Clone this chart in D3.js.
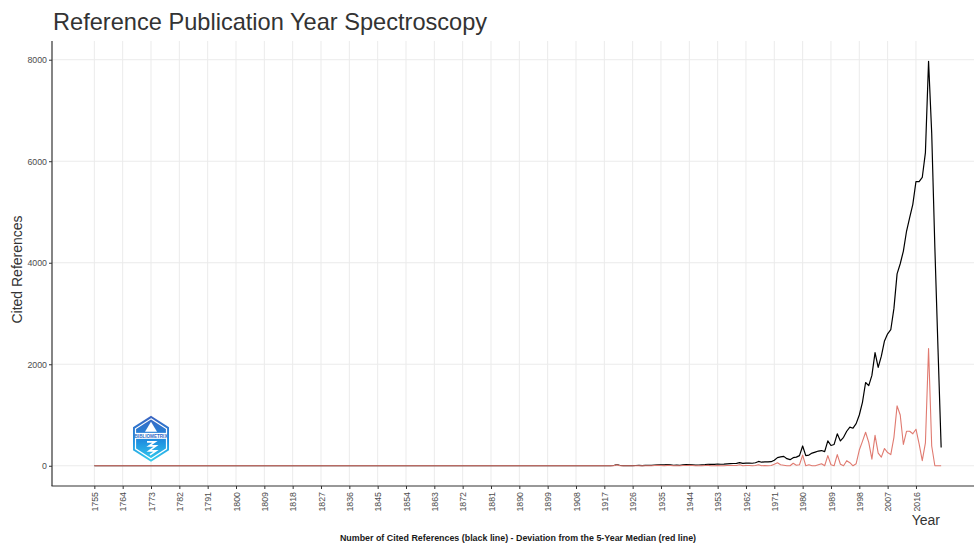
<!DOCTYPE html>
<html>
<head>
<meta charset="utf-8">
<script src="https://cdn.jsdelivr.net/npm/d3@7"></script>
<style>
  body { margin: 0; background: #ffffff; }
  svg { display: block; font-family: "Liberation Sans", Arial, sans-serif; }
</style>
</head>
<body>
<div id="plot"></div>
<script>
var width = 974;
var height = 545;

// full period covered by the cited references
var firstYear = 1755;
var lastYear = 2024;

// years that received citations (all other years: 0)
var citedYears = [
    1920, 1921, 1922, 1923, 1924, 1925, 1926, 1927, 1928, 1929,
    1930, 1931, 1932, 1933, 1934, 1935, 1936, 1937, 1938, 1939,
    1940, 1941, 1942, 1943, 1944, 1945, 1946, 1947, 1948, 1949,
    1950, 1951, 1952, 1953, 1954, 1955, 1956, 1957, 1958, 1959,
    1960, 1961, 1962, 1963, 1964, 1965, 1966, 1967, 1968, 1969,
    1970, 1971, 1972, 1973, 1974, 1975, 1976, 1977, 1978, 1979,
    1980, 1981, 1982, 1983, 1984, 1985, 1986, 1987, 1988, 1989,
    1990, 1991, 1992, 1993, 1994, 1995, 1996, 1997, 1998, 1999,
    2000, 2001, 2002, 2003, 2004, 2005, 2006, 2007, 2008, 2009,
    2010, 2011, 2012, 2013, 2014, 2015, 2016, 2017, 2018, 2019,
    2020, 2021, 2022, 2023, 2024
];

// number of cited references (black line)
var citations = [
    5, 25, 5, 3, 2, 4, 3, 5, 6, 4,
    8, 6, 9, 15, 18, 20, 17, 22, 18, 10,
    12, 9, 20, 22, 24, 20, 14, 15, 18, 22,
    30, 26, 28, 35, 30, 32, 38, 42, 45, 48,
    62, 48, 52, 55, 50, 60, 85, 70, 78, 75,
    80, 110, 160, 175, 185, 140, 120, 160, 170, 200,
    390, 200, 210, 250, 270, 290, 300, 280, 490, 400,
    420, 630, 490, 560, 680, 760, 740, 830, 1000, 1250,
    1640, 1580, 1780, 2230, 1940, 2160, 2460, 2600, 2680, 3100,
    3780, 3980, 4230, 4620, 4890, 5150, 5600, 5600, 5680, 6170,
    7970, 6550, 4300, 2300, 360
];

// deviation from the 5-year median (red line)
var deviation = [
    0, 20, 0, 0, 0, 0, 0, 0, 0, 0,
    0, 0, 0, 5, 8, 6, 0, 8, 4, 0,
    0, 0, 6, 6, 8, 4, 0, 0, 0, 4,
    8, 0, 0, 6, 0, 0, 4, 6, 5, 4,
    20, 0, 4, 5, 0, 5, 20, 0, 6, 0,
    5, 30, 60, 20, 10, 0, 0, 50, 10, 20,
    210, 0, 20, 0, 0, 20, 40, 0, 200, 20,
    0, 220, 30, 0, 100, 60, 0, 40, 310, 480,
    660, 460, 130, 600, 250, 170, 340, 260, 220, 560,
    1180, 1000, 420, 680, 680, 630, 720, 430, 100, 450,
    2310, 390, 0, 0, 0
];

var xTickLabels = [
    '1755', '1764', '1773', '1782', '1791', '1800', '1809', '1818', '1827', '1836',
    '1845', '1854', '1863', '1872', '1881', '1890', '1899', '1908', '1917', '1926',
    '1935', '1944', '1953', '1962', '1971', '1980', '1989', '1998', '2007', '2016'
];
var yTickValues = [0, 2000, 4000, 6000, 8000];

var panel = {left: 52, top: 41, bottom: 486};

var canvas = d3.select('#plot')
    .append('svg')
    .attr('width', width)
    .attr('height', height);

// one row per year, years without citations count as 0
var rows = [];
for (var yr = firstYear; yr <= lastYear; yr++) {
    var k = citedYears.indexOf(yr);
    rows.push({
        year: yr,
        count: k < 0 ? 0 : citations[k],
        dev: k < 0 ? 0 : deviation[k]
    });
}

// ggplot style 5% expansion on both scales
var xSpan = lastYear - firstYear;
var pxPerYear = 3.148;
var xDomain = [firstYear - 0.05 * xSpan, lastYear + 0.05 * xSpan];
var x_scale = d3.scaleLinear()
    .domain(xDomain)
    .range([panel.left, panel.left + (xDomain[1] - xDomain[0]) * pxPerYear]);

var yMax = d3.max(rows, function(d) { return d.count; });
var y_scale = d3.scaleLinear()
    .domain([-0.05 * yMax, yMax * 1.05])
    .range([panel.bottom, panel.top]);

// grid
var grid = canvas.append('g').attr('class', 'grid');
grid.selectAll('line.vgrid')
    .data(xTickLabels)
    .enter()
    .append('line')
    .attr('class', 'vgrid')
    .attr('x1', function(d) { return x_scale(+d); })
    .attr('x2', function(d) { return x_scale(+d); })
    .attr('y1', panel.top)
    .attr('y2', panel.bottom)
    .attr('stroke', '#ebebeb')
    .attr('stroke-width', 1);

grid.selectAll('line.hgrid')
    .data(yTickValues)
    .enter()
    .append('line')
    .attr('class', 'hgrid')
    .attr('x1', panel.left)
    .attr('x2', width)
    .attr('y1', function(d) { return y_scale(d); })
    .attr('y2', function(d) { return y_scale(d); })
    .attr('stroke', '#ebebeb')
    .attr('stroke-width', 1);

// logo badge
var logoX = x_scale(1773);
var logoY = y_scale(530);
var defs = canvas.append('defs');
var grad = defs.append('linearGradient')
    .attr('id', 'logoGrad')
    .attr('x1', 0).attr('y1', 0).attr('x2', 0).attr('y2', 1);
grad.append('stop').attr('offset', '0%').attr('stop-color', '#3b63c0');
grad.append('stop').attr('offset', '55%').attr('stop-color', '#1f8fe0');
grad.append('stop').attr('offset', '100%').attr('stop-color', '#35d0ee');

function hexPoints(cx, cy, rx, ry) {
    return [[cx, cy - ry], [cx + rx, cy - ry / 2], [cx + rx, cy + ry / 2],
            [cx, cy + ry], [cx - rx, cy + ry / 2], [cx - rx, cy - ry / 2]]
        .map(function(p) { return p.join(','); }).join(' ');
}

var logo = canvas.append('g').attr('class', 'logo');
logo.append('polygon')
    .attr('points', hexPoints(logoX, logoY, 18, 23))
    .attr('fill', 'url(#logoGrad)');
logo.append('polygon')
    .attr('points', hexPoints(logoX, logoY, 15.5, 20))
    .attr('fill', 'none')
    .attr('stroke', '#ffffff')
    .attr('stroke-width', 1.2);
logo.append('path')
    .attr('d', 'M' + logoX + ',' + (logoY - 17) + ' l-6,10 h12 z')
    .attr('fill', '#ffffff');
logo.append('rect')
    .attr('x', logoX - 16)
    .attr('y', logoY - 6)
    .attr('width', 32)
    .attr('height', 6)
    .attr('fill', '#ffffff');
logo.append('text')
    .attr('x', logoX)
    .attr('y', logoY - 1.3)
    .attr('text-anchor', 'middle')
    .attr('font-size', 4.6)
    .attr('font-weight', 'bold')
    .attr('fill', '#2f6bc4')
    .text('BIBLIOMETRIX');
logo.append('path')
    .attr('d', 'M' + (logoX - 4) + ',' + (logoY + 3) + ' h8 l-6,4 h7 l-7,5 h7 l-6,4')
    .attr('fill', 'none')
    .attr('stroke', '#ffffff')
    .attr('stroke-width', 1.6);

// lines
var line_gen = d3.line()
    .x(function(d) { return x_scale(d.year); });

canvas.append('path')
    .datum(rows)
    .attr('class', 'count-line')
    .attr('d', line_gen.y(function(d) { return y_scale(d.count); }))
    .attr('fill', 'none')
    .attr('stroke', '#000000')
    .attr('stroke-width', 1.2)
    .attr('stroke-linejoin', 'round');

canvas.append('path')
    .datum(rows)
    .attr('class', 'dev-line')
    .attr('d', line_gen.y(function(d) { return y_scale(d.dev); }))
    .attr('fill', 'none')
    .attr('stroke', '#e07a70')
    .attr('stroke-width', 1.1)
    .attr('stroke-linejoin', 'round');

// axes
var x_axis = d3.axisBottom(x_scale)
    .tickValues(xTickLabels.map(Number))
    .tickFormat(function(d) { return String(d); })
    .tickSize(3)
    .tickSizeOuter(0);

var xg = canvas.append('g')
    .attr('class', 'x-axis')
    .attr('transform', 'translate(0,' + panel.bottom + ')')
    .call(x_axis);
xg.select('.domain').remove();
xg.append('line')
    .attr('x1', panel.left - 0.5)
    .attr('x2', width)
    .attr('stroke', '#333333')
    .attr('stroke-width', 1.2);
xg.selectAll('.tick line').attr('stroke', '#333333');
xg.selectAll('.tick text')
    .attr('fill', '#4d4d4d')
    .attr('font-size', 8.8)
    .attr('text-anchor', 'end')
    .attr('dx', 0)
    .attr('dy', '0.35em')
    .attr('transform', 'translate(0,6) rotate(-90)')
    .attr('x', 0)
    .attr('y', 0);

var y_axis = d3.axisLeft(y_scale)
    .tickValues(yTickValues)
    .tickFormat(d3.format('d'))
    .tickSize(3)
    .tickSizeOuter(0);

var yg = canvas.append('g')
    .attr('class', 'y-axis')
    .attr('transform', 'translate(' + panel.left + ',0)')
    .call(y_axis);
yg.select('.domain').remove();
yg.append('line')
    .attr('y1', panel.top)
    .attr('y2', panel.bottom)
    .attr('stroke', '#333333')
    .attr('stroke-width', 1.2);
yg.selectAll('.tick line').attr('stroke', '#333333');
yg.selectAll('.tick text')
    .attr('fill', '#4d4d4d')
    .attr('font-size', 8.8)
    .attr('x', -5);

// titles
canvas.append('text')
    .attr('x', 53)
    .attr('y', 30)
    .attr('font-size', 23.6)
    .attr('fill', '#333333')
    .text('Reference Publication Year Spectroscopy');

canvas.append('text')
    .attr('transform', 'translate(22,' + ((panel.top + panel.bottom) / 2 + 6) + ') rotate(-90)')
    .attr('text-anchor', 'middle')
    .attr('font-size', 14)
    .attr('fill', '#333333')
    .text('Cited References');

canvas.append('text')
    .attr('x', 940)
    .attr('y', 525)
    .attr('text-anchor', 'end')
    .attr('font-size', 14)
    .attr('fill', '#333333')
    .text('Year');

canvas.append('text')
    .attr('x', 518)
    .attr('y', 541)
    .attr('text-anchor', 'middle')
    .attr('font-size', 8.9)
    .attr('font-weight', 'bold')
    .attr('fill', '#1a1a1a')
    .text('Number of Cited References (black line) - Deviation from the 5-Year Median (red line)');
</script>
</body>
</html>
